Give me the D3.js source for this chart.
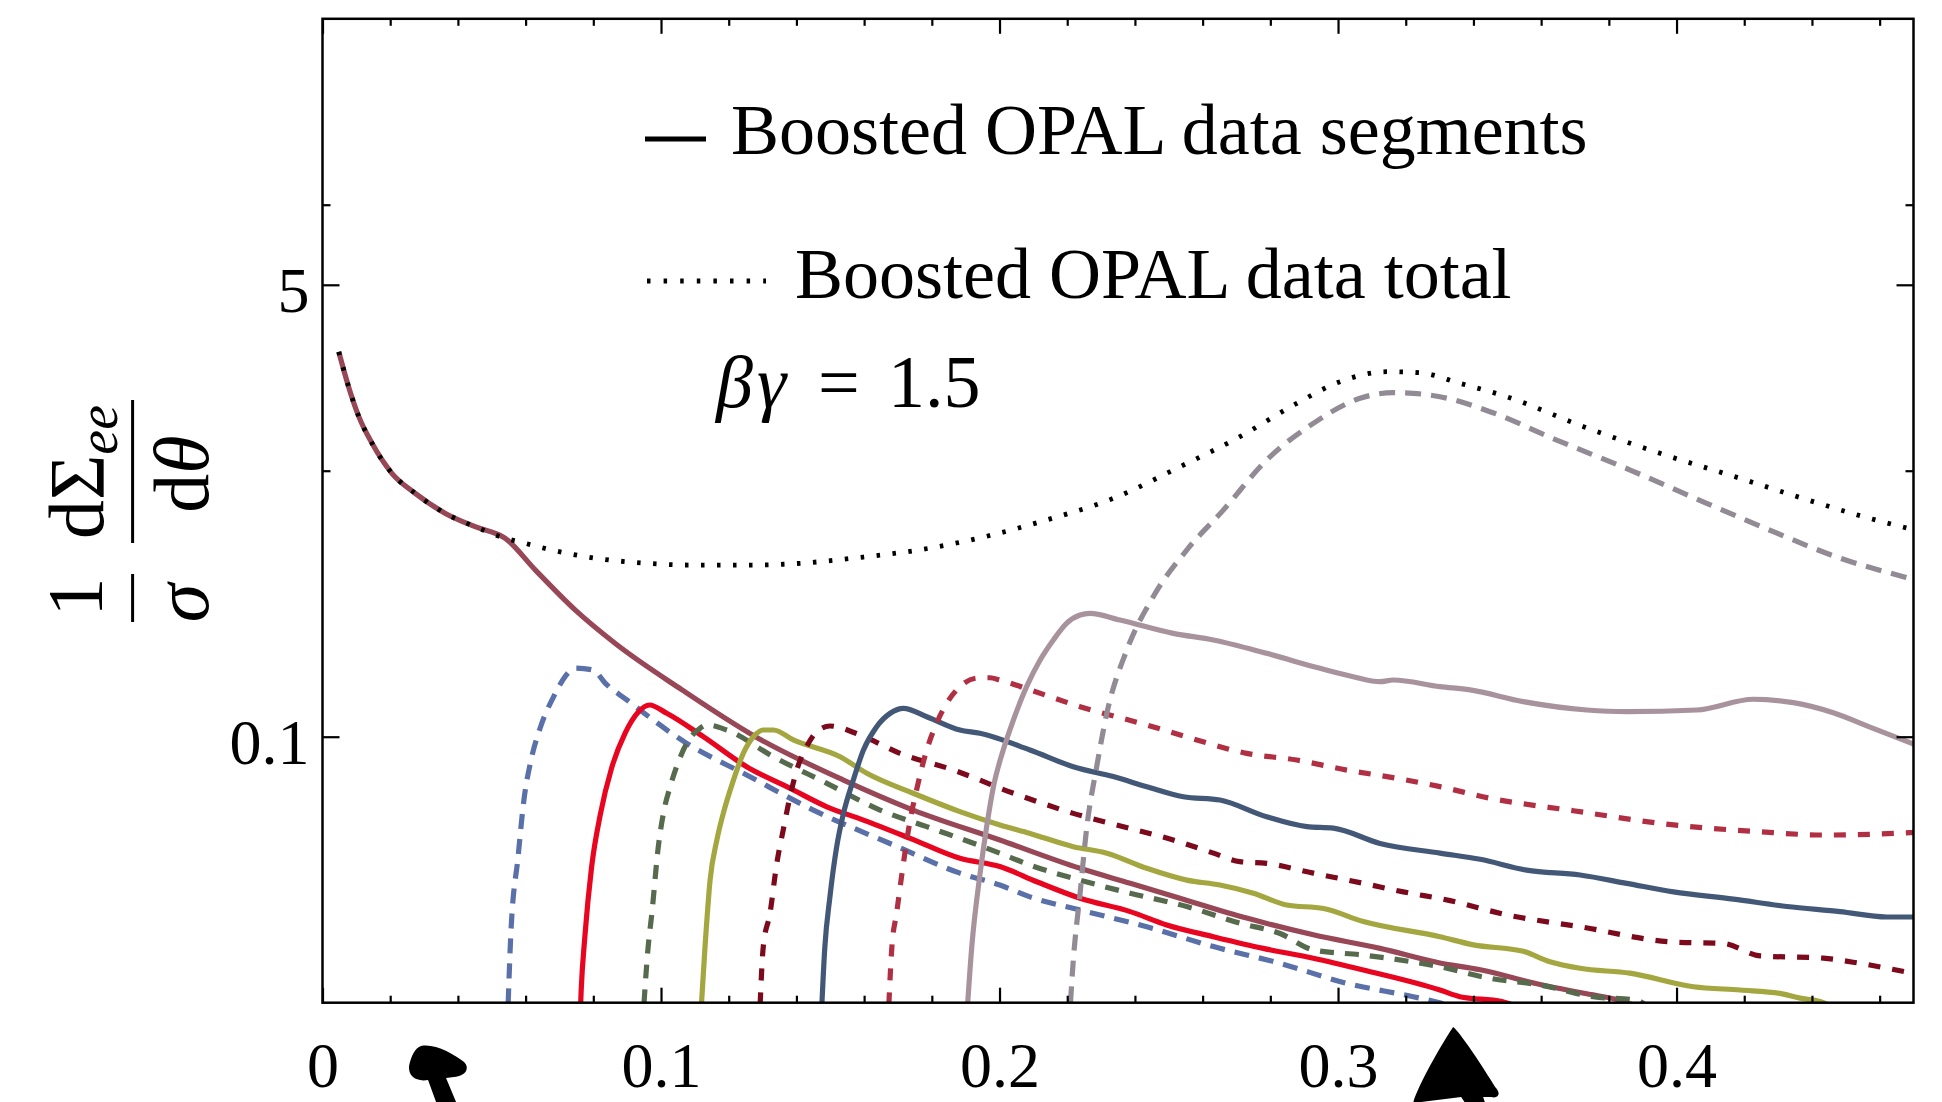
<!DOCTYPE html>
<html>
<head>
<meta charset="utf-8">
<script src="https://cdn.jsdelivr.net/npm/d3@7"></script>
<style>
    body { margin: 0; background: #fff; }
    svg { display: block; font-family: "Liberation Serif", "DejaVu Serif", serif; }
</style>
</head>
<body>
<svg id="chart" width="1942" height="1102" viewBox="0 0 1942 1102"></svg>
<script>
// ---- data (theta, 1/sigma dSigma/dtheta) ----
const seg1 = [[0.0048,2.80],[0.0077,2.07],[0.0107,1.60],[0.0146,1.27],[0.0205,0.978],[0.0274,0.822],[0.0363,0.691],[0.0451,0.616],[0.0540,0.557],[0.0629,0.423],[0.0747,0.299],[0.0865,0.224],[0.1062,0.150],[0.1279,0.100],[0.1539,0.0687],[0.1745,0.0530],[0.2001,0.0409],[0.2238,0.0320],[0.2386,0.0281],[0.2533,0.0247],[0.2730,0.0208],[0.2927,0.0180],[0.3124,0.0160],[0.3301,0.0141],[0.3420,0.0133],[0.3597,0.0117],[0.3735,0.0108],[0.3833,0.0102],[0.3900,0.0095]];
const seg2 = [[0.0546,0.008],[0.0556,0.0177],[0.0578,0.0356],[0.0595,0.0578],[0.0616,0.0817],[0.0643,0.1078],[0.0681,0.140],[0.0749,0.181],[0.0800,0.178],[0.0835,0.159],[0.0899,0.1375],[0.1076,0.0944],[0.1253,0.0718],[0.1450,0.0530],[0.1686,0.0392],[0.1883,0.0307],[0.2001,0.0277],[0.2090,0.0250],[0.2238,0.0223],[0.2435,0.0193],[0.2632,0.01625],[0.2829,0.01406],[0.3026,0.01183],[0.3222,0.01053],[0.3300,0.0100],[0.3360,0.0094]];
const seg3 = [[0.0760,0.008],[0.0764,0.0110],[0.0775,0.0177],[0.0795,0.0324],[0.0821,0.0512],[0.0854,0.0762],[0.0894,0.1032],[0.0933,0.1239],[0.0966,0.1316],[0.1017,0.1225],[0.1125,0.100],[0.1253,0.0771],[0.1381,0.0640],[0.1490,0.0545],[0.1598,0.0486],[0.1736,0.0415],[0.1883,0.0349],[0.2001,0.0325],[0.2110,0.0285],[0.2238,0.0247],[0.2386,0.0220],[0.2494,0.0196],[0.2632,0.0177],[0.2779,0.0160],[0.2927,0.0147],[0.3075,0.01327],[0.3301,0.01116],[0.3360,0.01053],[0.3484,0.0101],[0.3540,0.0095]];
const seg4 = [[0.0945,0.008],[0.0962,0.0162],[0.0973,0.0217],[0.0992,0.0386],[0.1007,0.0515],[0.1027,0.0649],[0.1046,0.0771],[0.1076,0.0944],[0.1115,0.1075],[0.1135,0.1107],[0.1194,0.106],[0.1332,0.0841],[0.1490,0.0668],[0.1647,0.0530],[0.1785,0.0459],[0.2001,0.0365],[0.2090,0.0329],[0.2238,0.0289],[0.2386,0.0258],[0.2553,0.0230],[0.2710,0.0199],[0.2829,0.0182],[0.2927,0.0158],[0.3075,0.0151],[0.3301,0.01365],[0.3449,0.01235],[0.3597,0.01166],[0.3754,0.01053],[0.3882,0.01023],[0.3920,0.0095]];
const seg5 = [[0.1115,0.008],[0.1130,0.0162],[0.1145,0.0289],[0.1165,0.0409],[0.1184,0.0515],[0.1214,0.0687],[0.1243,0.0866],[0.1273,0.100],[0.1302,0.106],[0.1332,0.106],[0.1391,0.0972],[0.1529,0.0841],[0.1608,0.0729],[0.1745,0.0613],[0.1883,0.0523],[0.2001,0.0466],[0.2090,0.0433],[0.2218,0.0386],[0.2317,0.0365],[0.2435,0.0320],[0.2553,0.0289],[0.2651,0.0277],[0.2750,0.0258],[0.2848,0.0233],[0.2957,0.0226],[0.3075,0.0202],[0.3301,0.0177],[0.3400,0.0165],[0.3547,0.0156],[0.3626,0.01426],[0.3715,0.01347],[0.3862,0.01291],[0.4050,0.01148],[0.4188,0.01116],[0.4306,0.01084],[0.4365,0.0104],[0.4424,0.0101],[0.4470,0.0095]];
const seg6 = [[0.1290,0.008],[0.1302,0.0162],[0.1322,0.0217],[0.1342,0.0334],[0.1361,0.0446],[0.1381,0.0595],[0.1401,0.0749],[0.1430,0.0917],[0.1460,0.1044],[0.1499,0.1097],[0.1588,0.1015],[0.1706,0.0866],[0.1864,0.0749],[0.1942,0.0687],[0.2001,0.0640],[0.2070,0.0595],[0.2218,0.0515],[0.2366,0.0459],[0.2513,0.0409],[0.2632,0.0365],[0.2710,0.0339],[0.2789,0.0334],[0.2927,0.0307],[0.3075,0.0281],[0.3193,0.0261],[0.3331,0.0242],[0.3498,0.0214],[0.3715,0.0193],[0.3991,0.0169],[0.4138,0.0167],[0.4247,0.0150],[0.4434,0.0147],[0.4542,0.01406],[0.4675,0.01308],[0.4700,0.0129]];
const seg7 = [[0.1472,0.008],[0.1484,0.0162],[0.1499,0.0250],[0.1519,0.0386],[0.1539,0.0515],[0.1568,0.0687],[0.1598,0.0891],[0.1637,0.109],[0.1677,0.1225],[0.1716,0.1279],[0.1785,0.1189],[0.1883,0.106],[0.1942,0.103],[0.2090,0.0891],[0.2218,0.0771],[0.2336,0.0708],[0.2435,0.0649],[0.2543,0.0595],[0.2651,0.0578],[0.2789,0.0500],[0.2908,0.0459],[0.2986,0.0453],[0.3124,0.0397],[0.3301,0.0365],[0.3420,0.0346],[0.3557,0.0315],[0.3715,0.0302],[0.3853,0.0281],[0.3991,0.0261],[0.4168,0.0245],[0.4326,0.0230],[0.4483,0.0220],[0.4621,0.0210],[0.4700,0.0210]];
const seg8 = [[0.1670,0.008],[0.1682,0.0162],[0.1696,0.0217],[0.1716,0.0334],[0.1736,0.0486],[0.1755,0.0631],[0.1785,0.0891],[0.1814,0.1123],[0.1844,0.1335],[0.1883,0.1542],[0.1933,0.166],[0.1972,0.1666],[0.2001,0.1634],[0.2090,0.150],[0.2238,0.1297],[0.2435,0.1107],[0.2583,0.0972],[0.2730,0.0866],[0.2878,0.0817],[0.3026,0.0749],[0.3173,0.0698],[0.3301,0.0649],[0.3449,0.0587],[0.3695,0.0527],[0.3991,0.0466],[0.4237,0.0440],[0.4434,0.0427],[0.4690,0.0436],[0.4700,0.0437]];
const seg9 = [[0.1901,0.008],[0.1918,0.0162],[0.1942,0.0302],[0.1962,0.0459],[0.1982,0.0649],[0.2011,0.0891],[0.2041,0.1156],[0.2080,0.1542],[0.2120,0.1942],[0.2159,0.2310],[0.2198,0.2669],[0.2238,0.2868],[0.2267,0.291],[0.2356,0.2746],[0.2513,0.2447],[0.2632,0.2310],[0.2789,0.2058],[0.2947,0.1807],[0.3045,0.1681],[0.3124,0.161],[0.3163,0.1634],[0.3301,0.1542],[0.3390,0.150],[0.3547,0.1355],[0.3735,0.126],[0.3853,0.1242],[0.4060,0.126],[0.4227,0.1383],[0.4345,0.1343],[0.4463,0.1231],[0.4581,0.1075],[0.4700,0.0939]];
const seg10 = [[0.2205,0.008],[0.2218,0.01447],[0.2238,0.0258],[0.2258,0.0459],[0.2287,0.0771],[0.2317,0.1225],[0.2376,0.2118],[0.2454,0.336],[0.2553,0.503],[0.2661,0.711],[0.2789,1.097],[0.2927,1.507],[0.3065,1.872],[0.3163,1.965],[0.3222,1.954],[0.3301,1.898],[0.3449,1.667],[0.3646,1.304],[0.3863,1.006],[0.4089,0.754],[0.4286,0.590],[0.4483,0.469],[0.4670,0.3996],[0.4700,0.390]];
const total = [[0.0048,2.80],[0.0077,2.07],[0.0107,1.60],[0.0146,1.27],[0.0205,0.978],[0.0274,0.822],[0.0363,0.691],[0.0451,0.616],[0.0540,0.557],[0.0580,0.541],[0.0678,0.503],[0.0806,0.469],[0.0954,0.449],[0.1082,0.442],[0.1269,0.442],[0.1362,0.445],[0.1600,0.474],[0.1759,0.503],[0.1957,0.565],[0.2139,0.653],[0.2336,0.787],[0.2533,1.035],[0.2710,1.342],[0.2878,1.792],[0.3006,2.161],[0.3144,2.356],[0.3242,2.335],[0.3360,2.131],[0.3498,1.898],[0.3725,1.464],[0.3951,1.163],[0.4188,0.936],[0.4404,0.765],[0.4552,0.672],[0.4700,0.600]];

const xMajor = [0, 0.1, 0.2, 0.3, 0.4];
const xMinor = [0.02, 0.04, 0.06, 0.08, 0.12, 0.14, 0.16, 0.18, 0.22, 0.24, 0.26, 0.28, 0.32, 0.34, 0.36, 0.38, 0.42, 0.44, 0.46];
const yMajor = [5, 0.1];
const yMinor = [10, 1];
const arrowMarks = [0.030, 0.334];

const series = [
    { data: seg1, color: "#984756", dash: null },
    { data: seg2, color: "#5a70a8", dash: "15,10" },
    { data: seg3, color: "#e8051f", dash: null },
    { data: seg4, color: "#566a4d", dash: "14,11" },
    { data: seg5, color: "#a4a63f", dash: null },
    { data: seg6, color: "#7c0a1c", dash: "12,12" },
    { data: seg7, color: "#435876", dash: null },
    { data: seg8, color: "#b02f42", dash: "12,12" },
    { data: seg9, color: "#a8939d", dash: null },
    { data: seg10, color: "#928b95", dash: "16,10" }
];

const svg = d3.select('#chart');
const plotLeft = 322.5, plotRight = 1913.5, plotTop = 18.8, plotBottom = 1002.7;

const x = d3.scaleLinear().domain([0, 0.47]).range([plotLeft, plotRight]);
const y = d3.scaleLog().domain([0.01, 50]).range([plotBottom, plotTop]);

svg.append("defs").append("clipPath").attr("id", "plotclip")
    .append("rect")
    .attr("x", plotLeft).attr("y", plotTop)
    .attr("width", plotRight - plotLeft).attr("height", plotBottom - plotTop);

const line = d3.line()
    .x(d => x(d[0]))
    .y(d => y(d[1]))
    .curve(d3.curveMonotoneX);

const plot = svg.append("g").attr("clip-path", "url(#plotclip)");

plot.selectAll("path.seg")
    .data(series)
    .enter().append("path")
    .attr("class", "seg")
    .attr("d", d => line(d.data))
    .attr("fill", "none")
    .attr("stroke", d => d.color)
    .attr("stroke-width", 5.2)
    .attr("stroke-dasharray", d => d.dash);

// total, dotted
plot.append("path")
    .attr("d", line(total))
    .attr("fill", "none")
    .attr("stroke", "#000")
    .attr("stroke-width", 4.8)
    .attr("stroke-dasharray", "3.5,12.5");

// axes (ticks point inward on all four sides)
function styleAxis(g) {
    g.select(".domain").remove();
    g.selectAll("line").attr("stroke", "#000").attr("stroke-width", 2.2);
}

svg.append("g").attr("transform", "translate(0," + plotBottom + ")")
    .call(d3.axisBottom(x).tickValues(xMinor).tickSize(-7).tickFormat(""))
    .call(styleAxis);
const xAxis = svg.append("g").attr("transform", "translate(0," + plotBottom + ")")
    .call(d3.axisBottom(x).tickValues(xMajor).tickSize(-15).tickFormat(d3.format("")))
    .call(styleAxis);
xAxis.selectAll("text")
    .attr("y", 84).attr("dy", null)
    .attr("font-size", 64).attr("font-family", "Liberation Serif").attr("fill", "#000");

svg.append("g").attr("transform", "translate(0," + plotTop + ")")
    .call(d3.axisTop(x).tickValues(xMinor).tickSize(-7).tickFormat(""))
    .call(styleAxis);
svg.append("g").attr("transform", "translate(0," + plotTop + ")")
    .call(d3.axisTop(x).tickValues(xMajor).tickSize(-15).tickFormat(""))
    .call(styleAxis);

svg.append("g").attr("transform", "translate(" + plotLeft + ",0)")
    .call(d3.axisLeft(y).tickValues(yMinor).tickSize(-8).tickFormat(""))
    .call(styleAxis);
const yAxis = svg.append("g").attr("transform", "translate(" + plotLeft + ",0)")
    .call(d3.axisLeft(y).tickValues(yMajor).tickSize(-17).tickPadding(13).tickFormat(d3.format("")))
    .call(styleAxis);
yAxis.selectAll("text")
    .attr("dy", "0.42em")
    .attr("font-size", 64).attr("font-family", "Liberation Serif").attr("fill", "#000");

svg.append("g").attr("transform", "translate(" + plotRight + ",0)")
    .call(d3.axisRight(y).tickValues(yMinor).tickSize(-8).tickFormat(""))
    .call(styleAxis);
svg.append("g").attr("transform", "translate(" + plotRight + ",0)")
    .call(d3.axisRight(y).tickValues(yMajor).tickSize(-17).tickFormat(""))
    .call(styleAxis);

// frame
svg.append("rect")
    .attr("x", plotLeft).attr("y", plotTop)
    .attr("width", plotRight - plotLeft).attr("height", plotBottom - plotTop)
    .attr("fill", "none").attr("stroke", "#000").attr("stroke-width", 2.5);

// legend
const legend = svg.append("g").attr("font-size", 72).attr("fill", "#000");
legend.append("line")
    .attr("x1", 645).attr("x2", 706).attr("y1", 139).attr("y2", 139)
    .attr("stroke", "#000").attr("stroke-width", 4.8);
legend.append("text").attr("x", 731).attr("y", 154).text("Boosted OPAL data segments");
legend.append("line")
    .attr("x1", 647).attr("x2", 766).attr("y1", 281).attr("y2", 281)
    .attr("stroke", "#000").attr("stroke-width", 4.8).attr("stroke-dasharray", "3.5,13.1");
legend.append("text").attr("x", 795).attr("y", 298).text("Boosted OPAL data total");
const bg = legend.append("g").attr("font-size", 74);
bg.append("text").attr("x", 716).attr("y", 407).attr("font-style", "italic").text("β");
bg.append("text").attr("x", 757).attr("y", 407).attr("font-style", "italic").text("γ");
bg.append("text").attr("x", 818).attr("y", 407).text("=");
bg.append("text").attr("x", 888).attr("y", 407).text("1.5");

// y axis label, rotated fractions
const ylab = svg.append("g")
    .attr("transform", "translate(132.6,0) rotate(-90)")
    .attr("font-size", 78).attr("fill", "#000").attr("text-anchor", "middle");
ylab.append("text").attr("x", -597).attr("y", -32).text("1");
ylab.append("text").attr("x", -603).attr("y", 75).attr("font-style", "italic").text("σ");
ylab.append("line").attr("x1", -574).attr("x2", -622).attr("y1", 0).attr("y2", 0)
    .attr("stroke", "#000").attr("stroke-width", 3);
const num = ylab.append("text").attr("x", -472).attr("y", -30);
num.append("tspan").text("dΣ");
num.append("tspan").attr("font-style", "italic").attr("font-size", 56).attr("dy", 14).text("ee");
ylab.append("line").attr("x1", -400).attr("x2", -543).attr("y1", 0).attr("y2", 0)
    .attr("stroke", "#000").attr("stroke-width", 3);
const den = ylab.append("text").attr("x", -474).attr("y", 75);
den.append("tspan").text("d");
den.append("tspan").attr("font-style", "italic").text("θ");

// hand-drawn arrow marks under the axis
const arrowShapes = [
    "M -3,0 C 10,-3 30,8 40,16 C 46,22 42,30 30,31 L 22,32 L 32,56 L 12,56 L 4,34 C -8,36 -16,30 -15,20 C -13,10 -9,2 -3,0 Z",
    "M 0,0 C 6,4 30,40 42,60 C 48,66 46,72 38,70 L 30,70 L 32,76 L 12,76 L 8,70 L -40,76 C -36,60 -12,18 0,0 Z"
];
svg.append("g").selectAll("path")
    .data(arrowMarks)
    .enter().append("path")
    .attr("transform", (d, i) => "translate(" + x(d) + "," + (i === 0 ? 1046 : 1027) + ")")
    .attr("d", (d, i) => arrowShapes[i])
    .attr("fill", "#000");
</script>
</body>
</html>
